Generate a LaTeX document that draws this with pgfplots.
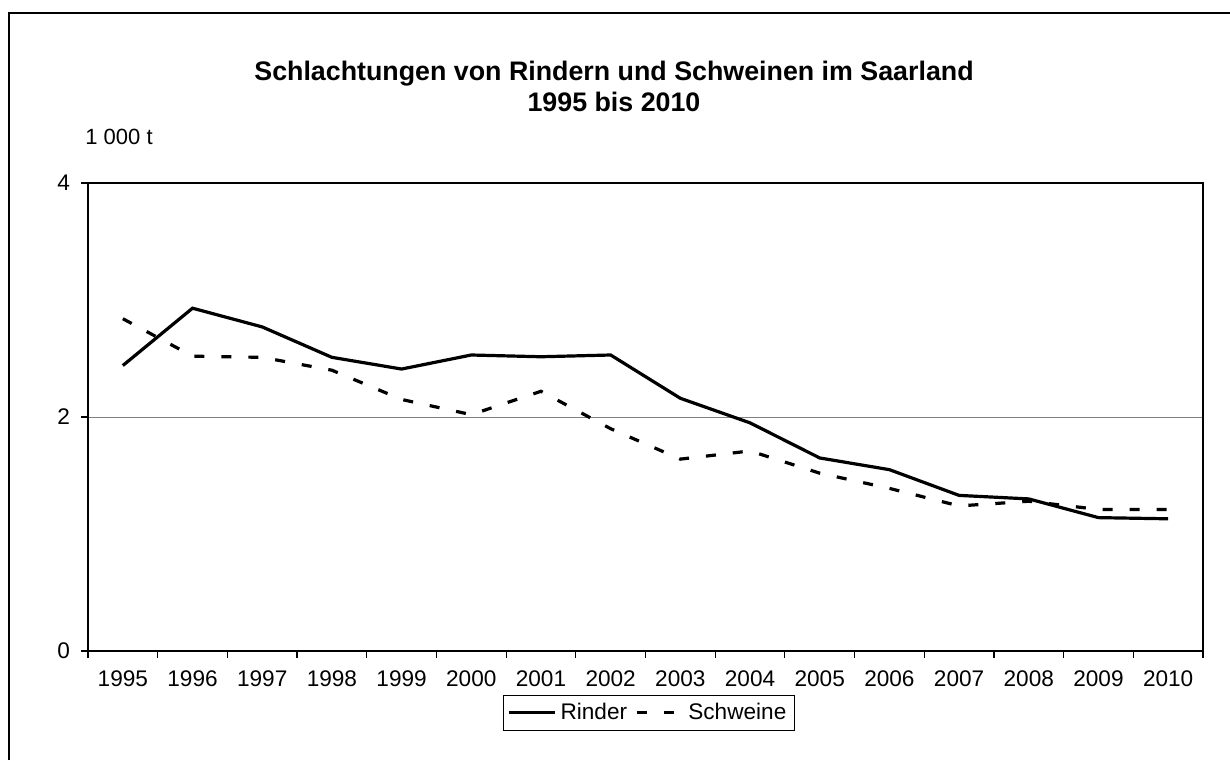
\documentclass[border=0pt]{standalone}
\usepackage{fontspec}
\setmainfont{Liberation Sans}
\usepackage{pgfplots}
\pgfplotsset{compat=1.18}
\begin{document}
\begin{tikzpicture}
\path[use as bounding box] (0,0) rectangle (615pt,-380pt);
\draw[line width=1.3pt] (4.5pt,-380pt) -- (4.5pt,-6.5pt) -- (615pt,-6.5pt);
\node[font=\bfseries\fontsize{13.4}{15}\selectfont] at (307pt,-37pt) {Schlachtungen von Rindern und Schweinen im Saarland};
\node[font=\bfseries\fontsize{13.4}{15}\selectfont] at (307pt,-51pt) {1995 bis 2010};
\node[font=\fontsize{11}{13}\selectfont, anchor=west, inner sep=0pt] at (42.5pt,-68.5pt) {1 000 t};
\begin{axis}[
  at={(44pt,-325.5pt)}, anchor=south west,
  width=557.5pt, height=234pt, scale only axis,
  xmin=-0.5, xmax=15.5, ymin=0, ymax=4,
  axis line style={line width=0.8pt},
  xtick={0,...,15},
  xticklabels={1995,1996,1997,1998,1999,2000,2001,2002,2003,2004,2005,2006,2007,2008,2009,2010},
  minor xtick={-0.5,0.5,...,15.5},
  ytick={0,2,4},
  tick align=outside, tick pos=left,
  x tick style={draw=none},
  minor x tick style={draw=black, line width=0.6pt},
  minor tick length=3.5pt,
  y tick style={line width=0.6pt, black},
  major tick length=3.5pt,
  ymajorgrids, grid style={gray, line width=0.5pt},
  /pgf/number format/assume math mode=true,
  tick label style={font=\fontsize{11.3}{13}\selectfont},
  xticklabel style={anchor=north, yshift=-3pt},
  yticklabel style={anchor=east, xshift=-2pt},
  legend style={at={(0.503,-0.132)}, anchor=center, legend columns=2,
    draw=black, line width=0.5pt, font=\fontsize{11.3}{13}\selectfont,
    inner xsep=2pt, inner ysep=2pt,
    /tikz/every even column/.append style={column sep=2pt}},
  legend image code/.code={\draw[#1] (0pt,0pt) -- (23pt,0pt);},
]
\addplot[black, line width=1.6pt] coordinates {
(0,2.44) (1,2.93) (2,2.77) (3,2.51) (4,2.41) (5,2.53) (6,2.515) (7,2.53)
(8,2.16) (9,1.95) (10,1.65) (11,1.55) (12,1.33) (13,1.30) (14,1.14) (15,1.13)};
\addlegendentry{Rinder}
\addplot[black, line width=1.6pt, dash pattern=on 5pt off 8.5pt] coordinates {
(0,2.84) (1,2.52) (2,2.51) (3,2.40) (4,2.15) (5,2.02) (6,2.22) (7,1.90)
(8,1.64) (9,1.71) (10,1.52) (11,1.39) (12,1.24) (13,1.28) (14,1.21) (15,1.21)};
\addlegendentry{Schweine}
\end{axis}
\end{tikzpicture}
\end{document}
